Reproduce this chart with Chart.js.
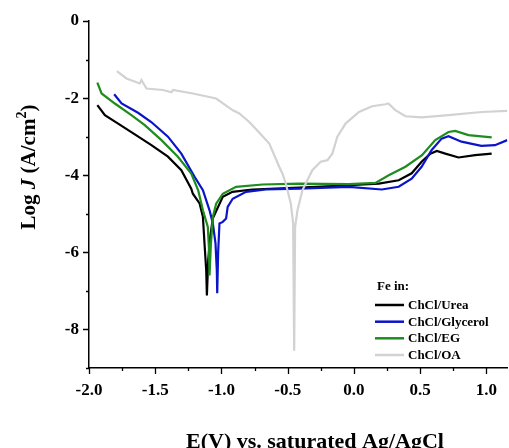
<!DOCTYPE html>
<html>
<head>
<meta charset="utf-8">
<script src="https://cdn.jsdelivr.net/npm/chart.js@4.4.1/dist/chart.umd.min.js"></script>
<style>
  body { margin: 0; background: #fff; }
  #wrap { width: 509px; height: 448px; }
</style>
</head>
<body>
<div id="wrap"><canvas id="chart" width="509" height="448"></canvas></div>
<script>
// potential (V vs Ag/AgCl) and log J
const ureaE = [-1.937, -1.88, -1.78, -1.654, -1.529, -1.404, -1.303, -1.228, -1.216, -1.165, -1.14, -1.128, -1.115, -1.11, -1.10, -1.085, -1.065, -0.99, -0.917, -0.767, -0.414, -0.038, 0.188, 0.338, 0.436, 0.511, 0.577, 0.626, 0.69, 0.79, 0.915, 1.04];
const ureaJ = [-2.18, -2.44, -2.66, -2.94, -3.22, -3.52, -3.87, -4.35, -4.48, -4.73, -5.08, -5.77, -6.47, -7.12, -6.2, -5.6, -5.12, -4.56, -4.43, -4.37, -4.32, -4.26, -4.22, -4.13, -3.95, -3.65, -3.44, -3.37, -3.44, -3.54, -3.48, -3.44];

const glyE = [-1.81, -1.754, -1.63, -1.53, -1.404, -1.303, -1.203, -1.14, -1.09, -1.065, -1.045, -1.035, -1.032, -1.025, -1.015, -0.99, -0.965, -0.953, -0.915, -0.814, -0.664, -0.414, -0.038, 0.21, 0.338, 0.436, 0.511, 0.586, 0.662, 0.714, 0.812, 0.962, 1.065, 1.158];
const glyJ = [-1.90, -2.14, -2.38, -2.62, -3.0, -3.44, -4.04, -4.39, -4.91, -5.25, -5.77, -6.47, -7.06, -6.0, -5.25, -5.21, -5.12, -4.82, -4.61, -4.43, -4.37, -4.35, -4.30, -4.37, -4.30, -4.09, -3.78, -3.35, -3.05, -2.99, -3.13, -3.24, -3.22, -3.09];

const egE = [-1.937, -1.905, -1.805, -1.68, -1.579, -1.453, -1.329, -1.228, -1.175, -1.14, -1.103, -1.095, -1.09, -1.08, -1.065, -1.04, -0.99, -0.89, -0.69, -0.414, -0.038, 0.163, 0.263, 0.389, 0.514, 0.614, 0.714, 0.765, 0.865, 1.04];
const egJ = [-1.60, -1.88, -2.14, -2.44, -2.70, -3.09, -3.52, -3.96, -4.40, -4.91, -5.34, -5.86, -6.60, -5.8, -5.08, -4.74, -4.48, -4.30, -4.24, -4.22, -4.23, -4.20, -4.0, -3.78, -3.48, -3.09, -2.88, -2.85, -2.96, -3.02];

const oaE = [-1.79, -1.717, -1.617, -1.604, -1.566, -1.441, -1.378, -1.366, -1.216, -1.04, -0.917, -0.865, -0.79, -0.714, -0.639, -0.564, -0.539, -0.514, -0.476, -0.459, -0.451, -0.444, -0.426, -0.389, -0.314, -0.251, -0.20, -0.163, -0.125, -0.063, 0.038, 0.138, 0.238, 0.26, 0.313, 0.389, 0.514, 0.714, 0.965, 1.158];
const oaJ = [-1.30, -1.49, -1.62, -1.53, -1.75, -1.79, -1.85, -1.79, -1.88, -2.01, -2.31, -2.40, -2.62, -2.90, -3.18, -3.78, -3.96, -4.22, -4.74, -5.25, -8.55, -5.34, -4.91, -4.39, -3.87, -3.65, -3.61, -3.44, -3.0, -2.66, -2.36, -2.21, -2.16, -2.14, -2.31, -2.47, -2.50, -2.44, -2.36, -2.33];

const seriesNames = ['ChCl/Urea', 'ChCl/Glycerol', 'ChCl/EG', 'ChCl/OA'];
const legendTitle = 'Fe in:';
const xTickValues = [-2.0, -1.5, -1.0, -0.5, 0.0, 0.5, 1.0];
const yTickValues = [0, -2, -4, -6, -8];
const xTitle = 'E(V) vs. saturated Ag/AgCl';

const colors = ['#000000', '#0a14c8', '#1e8c1e', '#d2d2d2'];
const FONT = 'Liberation Serif';

function pts(e, j) {
    return e.map((v, i) => ({x: v, y: j[i]}));
}

// ticks (long/short), axis titles and the legend box inside the plot
const decor = {
    id: 'decor',
    afterDraw(chart) {
        const ctx = chart.ctx;
        const xs = chart.scales.x, ys = chart.scales.y;
        const area = chart.chartArea;
        ctx.save();
        ctx.strokeStyle = '#000';
        ctx.lineWidth = 1.3;
        ctx.beginPath();
        for (let k = 0; k <= 12; k++) {
            const v = -2 + k * 0.25;
            const px = Math.round(xs.getPixelForValue(v)) + 0.5;
            const len = (k % 2 == 0) ? 6 : 3;
            ctx.moveTo(px, area.bottom);
            ctx.lineTo(px, area.bottom + len);
        }
        for (let k = 0; k <= 9; k++) {
            const py = Math.round(ys.getPixelForValue(-k)) + 0.5;
            const len = (k % 2 == 0) ? 6 : 3;
            ctx.moveTo(area.left, py);
            ctx.lineTo(area.left - len, py);
        }
        ctx.stroke();

        // y title: Log J (A/cm2) with italic J and superscript 2
        ctx.fillStyle = '#000';
        ctx.textBaseline = 'alphabetic';
        const parts = [
            ['Log ', 'bold 21px "' + FONT + '"', 0],
            ['J', 'italic bold 21px "' + FONT + '"', 0],
            [' (A/cm', 'bold 21px "' + FONT + '"', 0],
            ['2', 'bold 14px "' + FONT + '"', -9],
            [')', 'bold 21px "' + FONT + '"', 0]
        ];
        let total = 0;
        parts.forEach(p => { ctx.font = p[1]; total += ctx.measureText(p[0]).width; });
        ctx.save();
        ctx.translate(35, 167 + total / 2);
        ctx.rotate(-Math.PI / 2);
        let cx = 0;
        parts.forEach(p => {
            ctx.font = p[1];
            ctx.fillText(p[0], cx, p[2]);
            cx += ctx.measureText(p[0]).width;
        });
        ctx.restore();

        // x title
        ctx.font = 'bold 22px "' + FONT + '"';
        ctx.textAlign = 'left';
        ctx.fillText(xTitle, 186, 448);

        // legend
        ctx.font = 'bold 13px "' + FONT + '"';
        ctx.textBaseline = 'middle';
        ctx.fillText(legendTitle, 377, 287);
        const rows = [305, 321.7, 338.3, 355];
        chart.data.datasets.forEach((ds, i) => {
            ctx.strokeStyle = ds.borderColor;
            ctx.lineWidth = 2.5;
            ctx.beginPath();
            ctx.moveTo(375, rows[i]);
            ctx.lineTo(404, rows[i]);
            ctx.stroke();
            ctx.fillStyle = '#000';
            ctx.fillText(ds.label, 408, rows[i] + 0.5);
        });
        ctx.restore();
    }
};

const cty = document.getElementById('chart').getContext('2d');
const myChart = new Chart(cty, {
    type: 'scatter',
    data: {
        datasets: [
            {label: seriesNames[0], data: pts(ureaE, ureaJ), borderColor: colors[0], order: 4},
            {label: seriesNames[1], data: pts(glyE, glyJ), borderColor: colors[1], order: 3},
            {label: seriesNames[2], data: pts(egE, egJ), borderColor: colors[2], order: 2},
            {label: seriesNames[3], data: pts(oaE, oaJ), borderColor: colors[3], order: 1}
        ].map(ds => Object.assign(ds, {
            showLine: true,
            pointRadius: 0,
            borderWidth: 2.2,
            tension: 0,
            backgroundColor: ds.borderColor
        }))
    },
    options: {
        responsive: false,
        animation: false,
        layout: {padding: {top: 21, right: 0, bottom: 0, left: 0}},
        plugins: {
            legend: {display: false},
            tooltip: {enabled: false}
        },
        scales: {
            x: {
                type: 'linear',
                min: -2.0,
                max: 1.158,
                grid: {display: false, drawTicks: false},
                border: {display: true, color: '#000', width: 1.5},
                afterBuildTicks: s => { s.ticks = xTickValues.map(v => ({value: v})); },
                afterFit: s => { s.height = 80; },
                ticks: {
                    padding: 12,
                    color: '#000',
                    font: {family: FONT, size: 17, weight: 'bold'},
                    callback: v => v.toFixed(1)
                }
            },
            y: {
                type: 'linear',
                min: -9,
                max: 0,
                grid: {display: false, drawTicks: false},
                border: {display: true, color: '#000', width: 1.5},
                afterBuildTicks: s => { s.ticks = yTickValues.map(v => ({value: v})); },
                afterFit: s => { s.width = 89; },
                ticks: {
                    padding: 10,
                    color: '#000',
                    font: {family: FONT, size: 17, weight: 'bold'},
                    callback: v => String(v)
                }
            }
        }
    },
    plugins: [decor]
});
</script>
</body>
</html>
